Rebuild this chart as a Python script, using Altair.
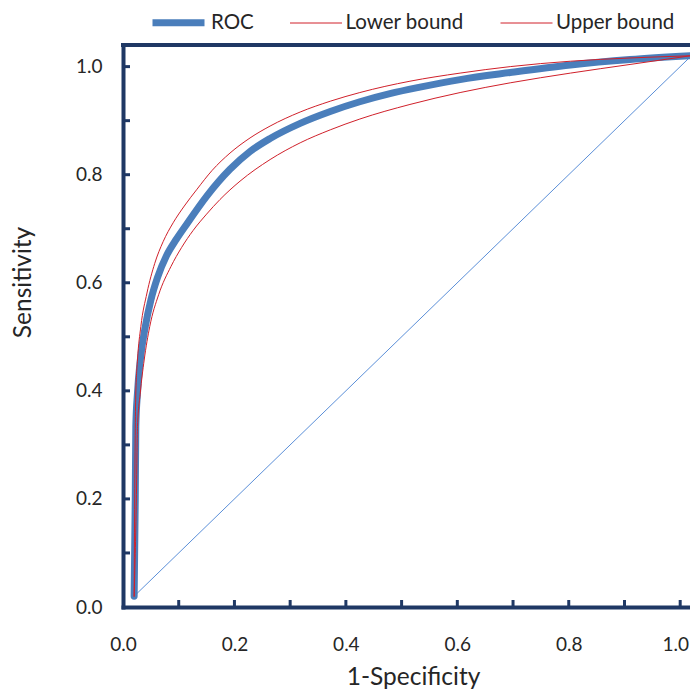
import altair as alt
import pandas as pd

# ---- data ----
series_names = ["ROC", "Lower bound", "Upper bound"]

roc_x = [0.020, 0.022, 0.023, 0.026, 0.031, 0.040, 0.050, 0.062, 0.078, 0.096, 0.114, 0.150,
         0.192, 0.228, 0.264, 0.318, 0.372, 0.425, 0.479, 0.533, 0.605, 0.695, 0.803, 0.910, 1.018]
roc_y = [0.020, 0.200, 0.334, 0.396, 0.457, 0.519, 0.568, 0.610, 0.650, 0.681, 0.708, 0.760,
         0.810, 0.843, 0.867, 0.895, 0.917, 0.935, 0.950, 0.962, 0.976, 0.989, 1.003, 1.013, 1.020]

lower_x = [0.020, 0.024, 0.026, 0.031, 0.038, 0.048, 0.064, 0.086, 0.105, 0.126, 0.150, 0.174,
           0.210, 0.264, 0.318, 0.372, 0.425, 0.515, 0.605, 0.695, 0.803, 0.910, 1.018]
lower_y = [0.020, 0.200, 0.334, 0.396, 0.457, 0.519, 0.578, 0.630, 0.665, 0.697, 0.727, 0.754,
           0.788, 0.828, 0.859, 0.883, 0.903, 0.930, 0.952, 0.970, 0.988, 1.004, 1.020]

upper_x = [0.020, 0.021, 0.022, 0.023, 0.026, 0.032, 0.043, 0.057, 0.072, 0.090, 0.110, 0.132,
           0.160, 0.192, 0.228, 0.264, 0.318, 0.372, 0.425, 0.515, 0.605, 0.695, 0.803, 0.910, 1.018]
upper_y = [0.020, 0.200, 0.330, 0.396, 0.457, 0.519, 0.581, 0.636, 0.676, 0.711, 0.742, 0.772,
           0.808, 0.840, 0.868, 0.890, 0.916, 0.936, 0.952, 0.973, 0.988, 1.000, 1.010, 1.016, 1.020]

diag_x = [0.02, 1.02]
diag_y = [0.02, 1.02]

tick_values = [0.0, 0.2, 0.4, 0.6, 0.8, 1.0]
minor_ticks = [0.1, 0.2, 0.3, 0.4, 0.5, 0.6, 0.7, 0.8, 0.9, 1.0]

# ---- tables ----
rows = []
for name, xs, ys in [("ROC", roc_x, roc_y), ("Lower bound", lower_x, lower_y),
                     ("Upper bound", upper_x, upper_y)]:
    for i, (a, b) in enumerate(zip(xs, ys)):
        rows.append({"series": name, "x": a, "y": b, "i": i})
curves = pd.DataFrame(rows)
diag = pd.DataFrame({"x": diag_x, "y": diag_y})
ticks = pd.DataFrame({"v": minor_ticks})

W, H = 567, 562
XMAX, YMAX = 1.0176, 1.04
NAVY = "#1F3864"
FONT = "Lato"
TXT = "#262626"

xscale = alt.Scale(domain=[0, XMAX], nice=False, zero=False)
yscale = alt.Scale(domain=[0, YMAX], nice=False, zero=False)

x_axis = alt.Axis(values=tick_values, format=".1f", grid=False, ticks=False, tickSize=0,
                  domainColor=NAVY, domainWidth=4, domainCap="square", labelFlush=False,
                  labelOffset=alt.condition("datum.value >= 1", alt.value(-5), alt.value(0)),
                  labelFont=FONT, labelFontSize=19, labelColor=TXT, labelPadding=28,
                  titleFont=FONT, titleFontSize=24.5, titleFontWeight="normal",
                  titleColor=TXT, titleX=290, titleY=70, titleBaseline="middle",
                  titleAlign="center")
y_axis = alt.Axis(values=tick_values, format=".1f", grid=False, ticks=False, tickSize=0,
                  domainColor=NAVY, domainWidth=4, domainCap="square",
                  labelFont=FONT, labelFontSize=19, labelColor=TXT, labelPadding=21,
                  titleFont=FONT, titleFontSize=24.5, titleFontWeight="normal",
                  titleColor=TXT, titleX=-100, titleY=237, titleBaseline="middle",
                  titleAlign="center")

X = lambda f: alt.X(f, scale=xscale, axis=x_axis, title="1-Specificity")
Y = lambda f: alt.Y(f, scale=yscale, axis=y_axis, title="Sensitivity")

diag_layer = alt.Chart(diag).mark_line(color="#5B8FD8", strokeWidth=1).encode(
    x=X("x:Q"), y=Y("y:Q"),
)

legend = alt.Legend(orient="none", legendX=39, legendY=-39,
                    direction="horizontal", title=None,
                    symbolType="M-2,0H2", symbolSize=676,
                    labelFont=FONT, labelFontSize=20.5,
                    labelColor=TXT, columnPadding=33.5, labelOffset=16)

curve_layer = alt.Chart(curves).mark_line(interpolate="monotone", strokeCap="round").encode(
    x=X("x:Q"), y=Y("y:Q"),
    order=alt.Order("i:Q"),
    color=alt.Color("series:N",
                    scale=alt.Scale(domain=series_names,
                                    range=["#4A7EBB", "#D0202A", "#D0202A"]),
                    legend=legend),
    strokeWidth=alt.StrokeWidth("series:N",
                                scale=alt.Scale(type="ordinal", domain=series_names,
                                                range=[7, 1, 1]),
                                legend=legend),
)

ytick_layer = alt.Chart(ticks).mark_rule(color=NAVY, strokeWidth=3).encode(
    y=Y("v:Q"), x=alt.value(0), x2=alt.value(7),
)
xtick_layer = alt.Chart(ticks).mark_rule(color=NAVY, strokeWidth=3).encode(
    x=X("v:Q"), y=alt.value(H), y2=alt.value(H - 7),
)
top_frame = alt.Chart(ticks).mark_rule(color=NAVY, strokeWidth=4, strokeCap="square").encode(
    x=alt.value(0), x2=alt.value(W + 10), y=alt.value(0),
)

chart = alt.layer(diag_layer, ytick_layer, xtick_layer, top_frame, curve_layer).properties(
    width=W, height=H,
    autosize=alt.AutoSizeParams(type="none"),
    padding={"left": 115, "top": 37, "right": 0, "bottom": 82},
    background="white",
).configure_view(stroke=None)

chart.save("out.html", embed_options={"renderer": "svg", "actions": False})
